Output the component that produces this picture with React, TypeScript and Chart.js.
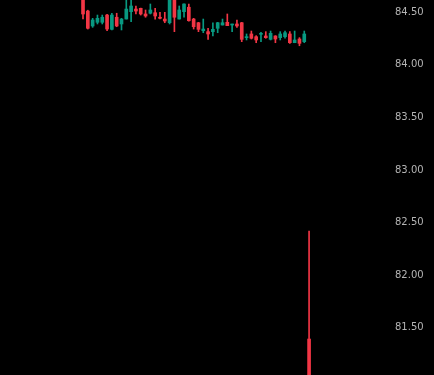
import React, { useEffect, useRef } from "react";
import { Chart, registerables } from "chart.js";

Chart.register(...registerables);

const opens = [84.66, 84.512, 84.37, 84.405, 84.405, 84.474, 84.338, 84.453, 84.389, 84.436, 84.506, 84.531, 84.538, 84.484, 84.491, 84.496, 84.453, 84.436, 84.401, 84.625, 84.436, 84.506, 84.548, 84.436, 84.401, 84.325, 84.316, 84.316, 84.348, 84.379, 84.405, 84.379, 84.389, 84.401, 84.259, 84.294, 84.268, 84.291, 84.275, 84.243, 84.275, 84.259, 84.268, 84.294, 84.211, 84.246, 84.221, 81.394];
const highs = [84.7, 84.52, 84.443, 84.474, 84.474, 84.48, 84.491, 84.491, 84.443, 84.65, 84.65, 84.56, 84.54, 84.522, 84.579, 84.538, 84.5, 84.5, 84.66, 84.66, 84.56, 84.58, 84.579, 84.443, 84.405, 84.436, 84.348, 84.401, 84.405, 84.436, 84.484, 84.389, 84.427, 84.405, 84.294, 84.322, 84.278, 84.31, 84.316, 84.322, 84.278, 84.316, 84.322, 84.316, 84.322, 84.259, 84.322, 82.421];
const lows = [84.436, 84.341, 84.357, 84.389, 84.389, 84.325, 84.332, 84.363, 84.332, 84.436, 84.411, 84.484, 84.474, 84.453, 84.484, 84.434, 84.436, 84.401, 84.389, 84.316, 84.436, 84.453, 84.415, 84.341, 84.316, 84.306, 84.243, 84.275, 84.306, 84.379, 84.373, 84.316, 84.357, 84.221, 84.237, 84.246, 84.211, 84.221, 84.253, 84.237, 84.211, 84.237, 84.253, 84.205, 84.211, 84.182, 84.211, 80.9];
const closes = [84.484, 84.348, 84.427, 84.443, 84.453, 84.341, 84.474, 84.37, 84.436, 84.531, 84.56, 84.512, 84.484, 84.465, 84.522, 84.465, 84.443, 84.417, 84.625, 84.453, 84.522, 84.579, 84.42, 84.363, 84.338, 84.341, 84.294, 84.338, 84.401, 84.401, 84.373, 84.389, 84.37, 84.243, 84.268, 84.253, 84.237, 84.3, 84.259, 84.3, 84.246, 84.294, 84.306, 84.211, 84.237, 84.205, 84.294, 80.95];
const priceTicks = [81.5, 82.0, 82.5, 83.0, 83.5, 84.0, 84.5];

const UP = "#089981";
const DOWN = "#f23645";

export default function App() {
  const ref = useRef<HTMLCanvasElement>(null);
  useEffect(() => {
    document.body.style.margin = "0";
    document.body.style.background = "#000";
    const colors = opens.map((o, i) => (closes[i] >= o ? UP : DOWN));
    const chart = new Chart(ref.current!, {
      type: "bar",
      data: {
        datasets: [
          {
            data: opens.map((o, i) => ({ x: i, y: [o, closes[i]] })) as any,
            backgroundColor: colors,
            barThickness: 3,
            grouped: false,
            minBarLength: 1,
          } as any,
          {
            data: lows.map((l, i) => ({ x: i, y: [l, highs[i]] })) as any,
            backgroundColor: colors,
            barThickness: 1,
            grouped: false,
          } as any,
        ],
      },
      options: {
        responsive: false,
        animation: false,
        devicePixelRatio: 1,
        layout: { padding: 0 },
        plugins: { legend: { display: false }, tooltip: { enabled: false } },
        scales: {
          x: {
            type: "linear",
            display: false,
            min: -17.26,
            max: 64.24,
            offset: false,
          },
          y: {
            position: "right",
            min: 81.052,
            max: 84.617,
            grid: { display: false, drawTicks: false },
            border: { display: false },
            ticks: {
              color: "#b4b4b4",
              font: { family: "DejaVu Sans", size: 10 },
              padding: 3,
              callback: (v: any) => Number(v).toFixed(2),
            },
            afterBuildTicks: (scale: any) => {
              scale.ticks = priceTicks.map((v) => ({ value: v }));
            },
            afterFit: (scale: any) => {
              scale.width = 42;
              scale.paddingTop = 0;
              scale.paddingBottom = 0;
            },
          } as any,
        },
      },
    });
    return () => chart.destroy();
  }, []);
  return (
    <div style={{ width: 434, height: 375, background: "#000" }}>
      <canvas ref={ref} width={434} height={375} style={{ display: "block", background: "#000" }} />
    </div>
  );
}
